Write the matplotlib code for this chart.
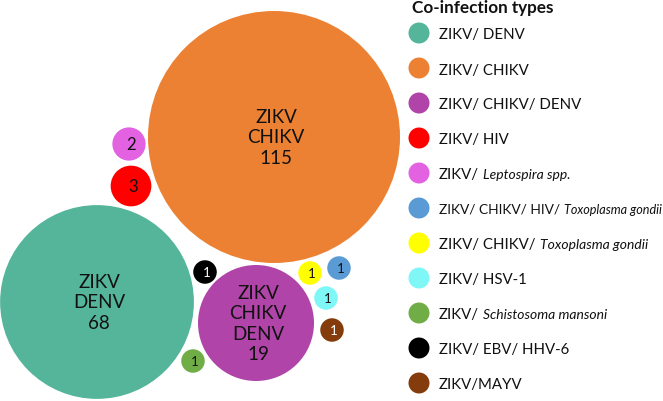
import matplotlib
matplotlib.use("Agg")
import matplotlib.pyplot as plt
from matplotlib.patches import Circle
import numpy as np

plt.rcParams['font.family'] = ['Lato', 'DejaVu Sans']

# ---- data ----
# each legend label: (roman part, italic part)
category_roman = ["ZIKV/ DENV", "ZIKV/ CHIKV", "ZIKV/ CHIKV/ DENV", "ZIKV/ HIV",
                  "ZIKV/", "ZIKV/ CHIKV/ HIV/", "ZIKV/ CHIKV/", "ZIKV/ HSV-1",
                  "ZIKV/", "ZIKV/ EBV/ HHV-6", "ZIKV/MAYV"]
category_italic = ["", "", "", "", "Leptospira spp.", "Toxoplasma gondii",
                   "Toxoplasma gondii", "", "Schistosoma mansoni", "", ""]
counts = [68, 115, 19, 3, 2, 1, 1, 1, 1, 1, 1]
bubble_labels = ["ZIKV\nDENV\n68", "ZIKV\nCHIKV\n115", "ZIKV\nCHIKV\nDENV\n19",
                 "3", "2", "1", "1", "1", "1", "1", "1"]
colors = ["#55B59A", "#ED8133", "#B044A8", "#FF0000", "#E262E2", "#5B9BD5",
          "#FFFF00", "#7FF7F7", "#70AD47", "#000000", "#843C0C"]

# ---- layout (pixel-like canvas coordinates) ----
centers = [(97, 303), (274, 138), (256, 324), (131, 187), (129, 145),
           (339, 269), (310, 274), (326, 299), (193, 362), (205, 273), (332, 331)]
radius_scale = 126 / np.sqrt(115)
min_radius = 10.5
font_sizes = [13.5, 13.5, 13.5, 12, 12, 9.5, 9.5, 9.5, 9.5, 9.5, 9.5]
text_colors = ["#111111"] * 9 + ["white", "white"]

W, H = 663, 402
fig = plt.figure(figsize=(W / 100, H / 100), dpi=100)
ax = fig.add_axes([0, 0, 1, 1])
ax.set_xlim(0, W)
ax.set_ylim(H, 0)
ax.axis("off")

for c, v, lab, col, fs, tc in zip(centers, counts, bubble_labels, colors, font_sizes, text_colors):
    r = max(radius_scale * np.sqrt(v), min_radius)
    if v == 19:
        r = 58
    ax.add_patch(Circle(c, r, facecolor=col, edgecolor="none"))
    ax.text(c[0] + 2, c[1], lab, ha="center", va="center", fontsize=fs,
            color=tc, linespacing=1.25)

# ---- legend ----
ax.text(412, 8, "Co-infection types", fontsize=12.3, fontweight="bold",
        ha="left", va="center", color="#111111")
renderer = fig.canvas.get_renderer()
inv = ax.transData.inverted()


def right_edge(txt):
    return inv.transform((txt.get_window_extent(renderer=renderer).x1, 0))[0]


for i, (rom, ital, col) in enumerate(zip(category_roman, category_italic, colors)):
    y = 34 + i * 35
    ax.add_patch(Circle((419, y), 10.5, facecolor=col, edgecolor="none"))
    fr, fi = 10.8, 10.0
    t = ax.text(439, y, rom, fontsize=fr, ha="left", va="center_baseline",
                color="#111111")
    if ital:
        ti = ax.text(right_edge(t) + 4, y, ital, fontsize=fi, style="italic",
                     ha="left", va="center_baseline", color="#111111")
        while right_edge(ti) > 662 and fr > 7:
            fr -= 0.1
            fi -= 0.1
            t.set_fontsize(fr)
            ti.set_fontsize(fi)
            ti.set_x(right_edge(t) + 4)

fig.savefig("out.png", dpi=100)
